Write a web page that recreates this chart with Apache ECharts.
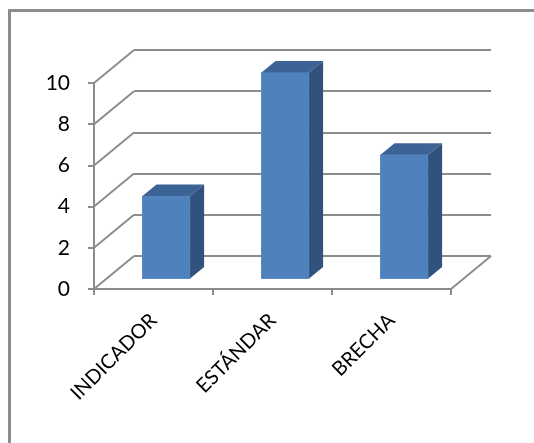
<!DOCTYPE html>
<html>
<head>
<meta charset="utf-8">
<script src="https://cdn.jsdelivr.net/npm/echarts@6/dist/echarts.min.js"></script>
<style>
html, body { margin:0; padding:0; background:#fff; }
#chart { width:534px; height:443px; }
</style>
</head>
<body>
<div id="chart"></div>
<script>
// datos
var categorias = ['INDICADOR', 'ESTÁNDAR', 'BRECHA'];
var valores = [4, 10, 6];
var yTicks = [0, 2, 4, 6, 8, 10];

// profundidad del efecto 3D (pared del fondo)
var DX = 40, DY = -33;
var GRID = { left: 94, top: 83, width: 357, height: 206 };
var lineGray = '#8c8c8c';

var chart = echarts.init(document.getElementById('chart'));

// lineas diagonales de la pared izquierda y del piso
function renderWall(params, api) {
  var v = api.value(1);
  var p = api.coord([0, v]);
  var half = api.size([1, 0])[0] / 2;
  var x0 = p[0] - half;
  var children = [{
    type: 'line',
    shape: { x1: x0, y1: p[1], x2: x0 + DX, y2: p[1] + DY },
    style: { stroke: lineGray, lineWidth: 2 }
  }];
  if (v === 0) {
    var pr = api.coord([categorias.length - 1, 0]);
    var xr = pr[0] + half;
    children.push({
      type: 'line',
      shape: { x1: xr, y1: pr[1], x2: xr + DX, y2: pr[1] + DY },
      style: { stroke: lineGray, lineWidth: 2 }
    });
  }
  return { type: 'group', children: children };
}

// barras 3D: cara frontal, superior y lateral
function renderBar(params, api) {
  var i = api.value(0);
  var base = api.coord([i, 0]);
  var top = api.coord([i, api.value(1)]);
  var bw = api.size([1, 0])[0] * 0.40;
  var f0 = 0.32, f1 = 0.67;
  var ox = DX * f0, oy = DY * f0;
  var ddx = DX * (f1 - f0), ddy = DY * (f1 - f0);
  var xL = base[0] - bw / 2 + ox, xR = xL + bw;
  var yT = top[1] + oy, yB = base[1] + oy;
  return {
    type: 'group',
    children: [
      { type: 'rect', shape: { x: xL, y: yT, width: bw, height: yB - yT },
        style: { fill: '#4f81bd', stroke: '#5a8ac4', lineWidth: 1 } },
      { type: 'polygon', shape: { points: [[xL, yT], [xR, yT], [xR + ddx, yT + ddy], [xL + ddx, yT + ddy]] },
        style: { fill: '#3b6396' } },
      { type: 'polygon', shape: { points: [[xR, yT], [xR + ddx, yT + ddy], [xR + ddx, yB + ddy], [xR, yB]] },
        style: { fill: '#30527c' } }
    ]
  };
}

var option = {
  animation: false,
  textStyle: { fontFamily: 'Lato' },
  graphic: [{
    type: 'rect', silent: true,
    shape: { x: 9.5, y: 10.5, width: 600, height: 600 },
    style: { fill: 'none', stroke: lineGray, lineWidth: 3 }
  }],
  grid: [
    { left: GRID.left, top: GRID.top, width: GRID.width, height: GRID.height },
    // pared del fondo
    { left: GRID.left + DX, top: GRID.top + DY, width: GRID.width, height: GRID.height }
  ],
  xAxis: [{
    type: 'category', gridIndex: 0, data: categorias, boundaryGap: true,
    axisLine: { show: true, lineStyle: { color: lineGray, width: 2 } },
    axisTick: { show: true, length: 6, lineStyle: { color: lineGray, width: 2 } },
    axisLabel: { rotate: 45, margin: 28, fontSize: 20, color: '#000', fontFamily: 'Lato' },
    splitLine: { show: false }
  }, {
    type: 'category', gridIndex: 1, data: categorias, show: false
  }],
  yAxis: [{
    type: 'value', gridIndex: 0, min: 0, max: 10, interval: 2,
    axisLine: { show: true, lineStyle: { color: lineGray, width: 2 } },
    axisTick: { show: true, length: 6, lineStyle: { color: lineGray, width: 2 } },
    axisLabel: { margin: 24, fontSize: 21, color: '#000', fontFamily: 'Lato' },
    splitLine: { show: false }
  }, {
    type: 'value', gridIndex: 1, min: 0, max: 10, interval: 2,
    axisLine: { show: false }, axisTick: { show: false }, axisLabel: { show: false },
    splitLine: { show: true, lineStyle: { color: lineGray, width: 2 } }
  }],
  series: [{
    type: 'custom', xAxisIndex: 0, yAxisIndex: 0, silent: true, z: 1,
    renderItem: renderWall,
    data: yTicks.map(function (v) { return [0, v]; })
  }, {
    type: 'custom', xAxisIndex: 0, yAxisIndex: 0, z: 3,
    renderItem: renderBar,
    data: valores.map(function (v, i) { return [i, v]; })
  }]
};

chart.setOption(option);
</script>
</body>
</html>
